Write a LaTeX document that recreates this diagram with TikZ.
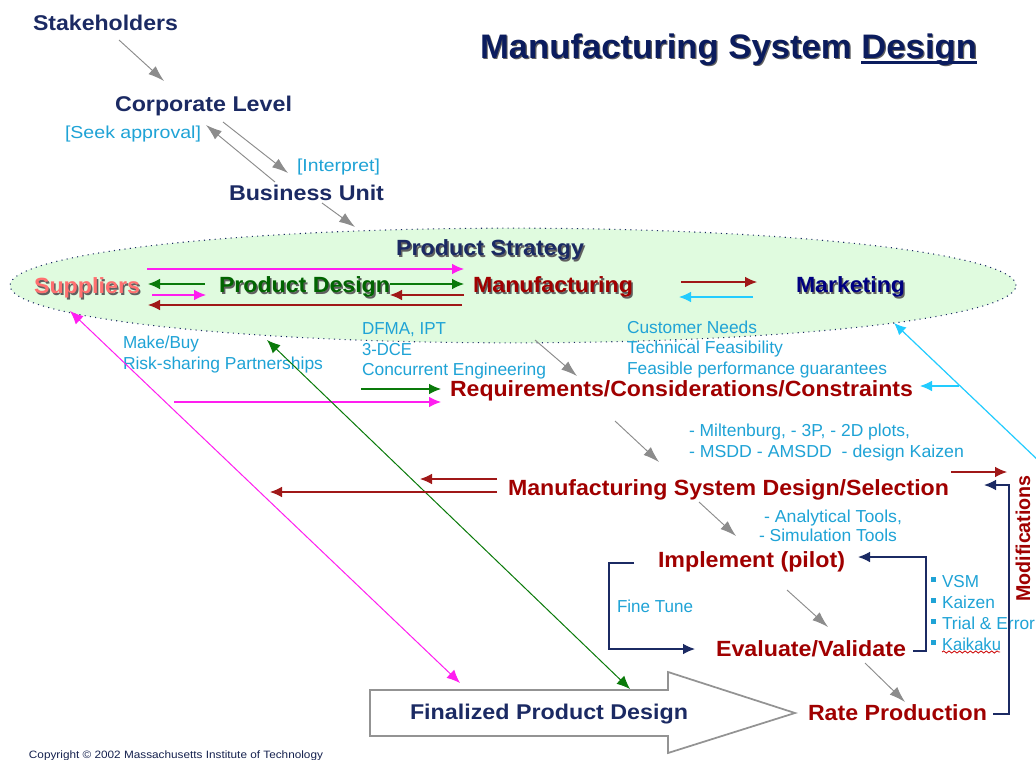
\documentclass[tikz,border=0pt]{standalone}
\usepackage{fontspec}
\usepackage{graphicx}
\setmainfont{Liberation Sans}
\usetikzlibrary{arrows.meta,shapes.geometric,decorations.pathmorphing}
\definecolor{navytx}{HTML}{1B2A63}
\definecolor{titlenavy}{HTML}{0B1C5E}
\definecolor{navyln}{HTML}{1B2A63}
\definecolor{bluetx}{HTML}{1FA3D6}
\definecolor{redtx}{HTML}{A00000}
\definecolor{redln}{HTML}{A01818}
\definecolor{grn}{HTML}{0A7A0A}
\definecolor{darkgrn}{HTML}{006400}
\definecolor{mag}{HTML}{FF1EF0}
\definecolor{cy}{HTML}{22CCFF}
\definecolor{ellfill}{HTML}{E0FBDF}
\definecolor{salmon}{HTML}{FF7070}
\definecolor{mktblue}{HTML}{000080}
\definecolor{shgray}{HTML}{606060}
\newsavebox\ulbox
\newcommand\thickul[1]{\sbox\ulbox{#1}\rlap{\rule[-3.6pt]{\wd\ulbox}{1.7pt}}\usebox\ulbox}
\newcommand\lbl[6]{\node[tx,#5] (#4) at (#1,#3) {\resizebox{\dimexpr(#2pt-#1pt)*3/4\relax}{\height}{#6}};}
\newcommand\shd[2]{\leavevmode\rlap{\kern1.1pt\raisebox{-1.1pt}{\textcolor{shgray}{#2}}}\textcolor{#1}{#2}}
\tikzset{
  tx/.style={inner sep=0pt,outer sep=0pt,anchor=mid west,yshift=-3.2pt},
  head/.style={font=\bfseries\fontsize{16}{18}\selectfont,text=navytx},
  stage/.style={font=\bfseries\fontsize{16.5}{18}\selectfont,text=redtx},
  fn/.style={font=\bfseries\fontsize{16.5}{18}\selectfont},
  note/.style={font=\fontsize{13}{14}\selectfont,text=bluetx,yshift=0.8pt},
  flow/.style={line width=0.9pt,-{Latex[length=9pt,width=8pt]}},
  dflow/.style={line width=0.75pt,{Latex[length=10pt,width=8.5pt]}-{Latex[length=10pt,width=8.5pt]}},
  grayflow/.style={line width=0.7pt,draw=gray!90,-{Latex[length=12pt,width=8pt]}},
  navyflow/.style={line width=1pt,draw=navyln,-{Latex[length=9pt,width=8pt]}},
}
\begin{document}
\begin{tikzpicture}[x=0.75pt,y=-0.75pt]
\useasboundingbox (0,0) rectangle (1036,760);
\fill[white] (0,0) rectangle (1036,760);
% ellipse
\node[ellipse,minimum width=754.5pt,minimum height=86pt,inner sep=0pt,fill=ellfill,draw=navyln,line width=0.8pt,dash pattern=on 0.8pt off 3.2pt] (strategy) at (513,285.5) {};
% big arrow
\coordinate (ba1) at (370,690);\coordinate (ba2) at (668,690);\coordinate (ba3) at (668,672);\coordinate (ba4) at (795,713);\coordinate (ba5) at (668,753);\coordinate (ba6) at (668,736);\coordinate (ba7) at (370,736);
\draw[draw=gray!85,fill=white,line width=1.3pt,line join=miter] (ba1)--(ba2)--(ba3)--(ba4)--(ba5)--(ba6)--(ba7)--cycle;
% title
\node[tx,font=\bfseries\fontsize{25.5}{30}\selectfont] (title) at (480,51) {\resizebox{372.75pt}{\height}{\leavevmode\rlap{\kern0.9pt\raisebox{-0.9pt}{\textcolor{shgray}{Manufacturing System Design}}}\textcolor{titlenavy}{Manufacturing System \thickul{Design}}}};
% headings
\lbl{33}{178}{23}{stake}{head}{Stakeholders}
\lbl{115}{292}{104}{corp}{head}{Corporate Level}
\lbl{229}{384}{193}{bu}{head}{Business Unit}
\lbl{396}{584}{248}{ps}{fn}{\shd{navytx}{Product Strategy}}
\lbl{34}{140}{286}{sup}{fn}{\shd{salmon}{Suppliers}}
\lbl{219}{390}{285}{pd}{fn}{\shd{darkgrn}{Product Design}}
\lbl{473}{633}{285}{mfg}{fn}{\shd{redtx}{Manufacturing}}
\lbl{796}{905}{285}{mkt}{fn}{\shd{mktblue}{Marketing}}
% notes
\lbl{65}{201}{132}{seek}{note}{[Seek approval]}
\lbl{297}{380}{165}{interp}{note}{[Interpret]}
\lbl{123}{199}{342}{mb}{note}{Make/Buy}
\lbl{123}{323}{363}{rsp}{note}{Risk-sharing Partnerships}
\lbl{362}{446}{328}{dfma}{note}{DFMA, IPT}
\lbl{362}{412}{349}{dce}{note}{3-DCE}
\lbl{362}{546}{369}{ce}{note}{Concurrent Engineering}
\lbl{627}{757}{327}{cn}{note}{Customer Needs}
\lbl{627}{783}{347}{tf}{note}{Technical Feasibility}
\lbl{627}{887}{368}{fpg}{note}{Feasible performance guarantees}
\lbl{689}{910}{430}{m1}{note}{- Miltenburg, - 3P, - 2D plots,}
\lbl{689}{964}{451}{m2}{note}{- MSDD - AMSDD\ \ - design Kaizen}
\lbl{764}{902}{516}{at}{note}{- Analytical Tools,}
\lbl{759}{897}{535}{st}{note}{- Simulation Tools}
\lbl{617}{693}{606}{ft}{note}{Fine Tune}
\lbl{942}{979}{581}{vsm}{note}{VSM}
\lbl{942}{995}{602}{kz}{note}{Kaizen}
\lbl{942}{1035}{623}{te}{note}{Trial \& Error}
\lbl{942}{1001}{644}{kk}{note}{Kaikaku}
\foreach \yy in {579,600,621,642}{\fill[bluetx] (930.5,\yy-2.5) rectangle ++(5,5);}
\coordinate (w1) at (942,652);\coordinate (w2) at (1000,652);
\draw[red!80!black,line width=0.6pt,decorate,decoration={snake,amplitude=0.8pt,segment length=4pt}] (w1)--(w2);
% stages
\lbl{450}{913}{389}{req}{stage}{Requirements/Considerations/Constraints}
\lbl{508}{949}{488}{msd}{stage}{Manufacturing System Design/Selection}
\lbl{658}{845}{560}{impl}{stage}{Implement (pilot)}
\lbl{716}{906}{649}{ev}{stage}{Evaluate/Validate}
\lbl{808}{987}{713}{rate}{stage}{Rate Production}
\lbl{410}{688}{712}{fpd}{head}{Finalized Product Design}
\node[inner sep=0pt,rotate=90,font=\bfseries\fontsize{15}{16}\selectfont,text=redtx] (mod) at (1023,538.5) {\resizebox{95pt}{\height}{Modifications}};
\lbl{29}{323}{750.5}{copy}{font=\fontsize{8}{9}\selectfont,text=navytx!80!black}{Copyright © 2002 Massachusetts Institute of Technology}
% gray flow
\coordinate (g1a) at (119,40);\coordinate (g1b) at (164,81);
\coordinate (g2a) at (223,122);\coordinate (g2b) at (288,173);
\coordinate (g3a) at (275,182);\coordinate (g3b) at (206,125);
\coordinate (g4a) at (322,203);\coordinate (g4b) at (355,227);
\coordinate (g5a) at (535,340);\coordinate (g5b) at (577,376);
\coordinate (g6a) at (615,421);\coordinate (g6b) at (659,462);
\coordinate (g7a) at (699,502);\coordinate (g7b) at (736,536);
\coordinate (g8a) at (787,590);\coordinate (g8b) at (828,627);
\coordinate (g9a) at (865,663);\coordinate (g9b) at (905,702);
\foreach \n in {1,...,9}{\draw[grayflow] (g\n a)--(g\n b);}
% ellipse flows
\coordinate (e1a) at (147,269);\coordinate (e1b) at (464,269);
\coordinate (e2a) at (205,284);\coordinate (e2b) at (148,284);
\coordinate (e3a) at (152,295);\coordinate (e3b) at (206,295);
\coordinate (e4a) at (462,305);\coordinate (e4b) at (148,305);
\coordinate (e5a) at (390,284);\coordinate (e5b) at (464,284);
\coordinate (e6a) at (464,295);\coordinate (e6b) at (390,295);
\coordinate (e7a) at (681,282);\coordinate (e7b) at (757,282);
\coordinate (e8a) at (753,297);\coordinate (e8b) at (679,297);
\draw[flow,draw=mag] (e1a)--(e1b);
\draw[flow,draw=grn] (e2a)--(e2b);
\draw[flow,draw=mag] (e3a)--(e3b);
\draw[flow,draw=redln] (e4a)--(e4b);
\draw[flow,draw=grn] (e5a)--(e5b);
\draw[flow,draw=redln] (e6a)--(e6b);
\draw[flow,draw=redln] (e7a)--(e7b);
\draw[flow,draw=cy] (e8a)--(e8b);
% to requirements
\coordinate (r1a) at (361,389);\coordinate (r1b) at (441,389);
\coordinate (r2a) at (174,402);\coordinate (r2b) at (441,402);
\coordinate (r3a) at (959,386);\coordinate (r3b) at (920,386);
\coordinate (r4a) at (1040,462);\coordinate (r4b) at (894,323);
\draw[flow,draw=grn] (r1a)--(r1b);
\draw[flow,draw=mag] (r2a)--(r2b);
\draw[flow,draw=cy] (r3a)--(r3b);
\draw[flow,draw=cy] (r4a)--(r4b);
% long double arrows
\coordinate (d1a) at (70,311);\coordinate (d1b) at (460,683);
\coordinate (d2a) at (267,340);\coordinate (d2b) at (630,689);
\draw[dflow,draw=mag] (d1a)--(d1b);
\draw[dflow,draw=grn] (d2a)--(d2b);
% msd flows
\coordinate (s1a) at (497,479);\coordinate (s1b) at (420,479);
\coordinate (s2a) at (497,492);\coordinate (s2b) at (270,492);
\coordinate (s3a) at (951,472);\coordinate (s3b) at (1007,472);
\draw[flow,draw=redln] (s1a)--(s1b);
\draw[flow,draw=redln] (s2a)--(s2b);
\draw[flow,draw=redln] (s3a)--(s3b);
% feedback
\coordinate (f1a) at (993,714);\coordinate (f1b) at (1009,714);\coordinate (f1c) at (1009,485);\coordinate (f1d) at (984,485);
\coordinate (f2a) at (913,651);\coordinate (f2b) at (926,651);\coordinate (f2c) at (926,557);\coordinate (f2d) at (858,557);
\coordinate (f3a) at (634,563);\coordinate (f3b) at (609,563);\coordinate (f3c) at (609,649);\coordinate (f3d) at (695,649);
\draw[navyflow] (f1a)--(f1b)--(f1c)--(f1d);
\draw[navyflow] (f2a)--(f2b)--(f2c)--(f2d);
\draw[navyflow] (f3a)--(f3b)--(f3c)--(f3d);
\end{tikzpicture}
\end{document}
